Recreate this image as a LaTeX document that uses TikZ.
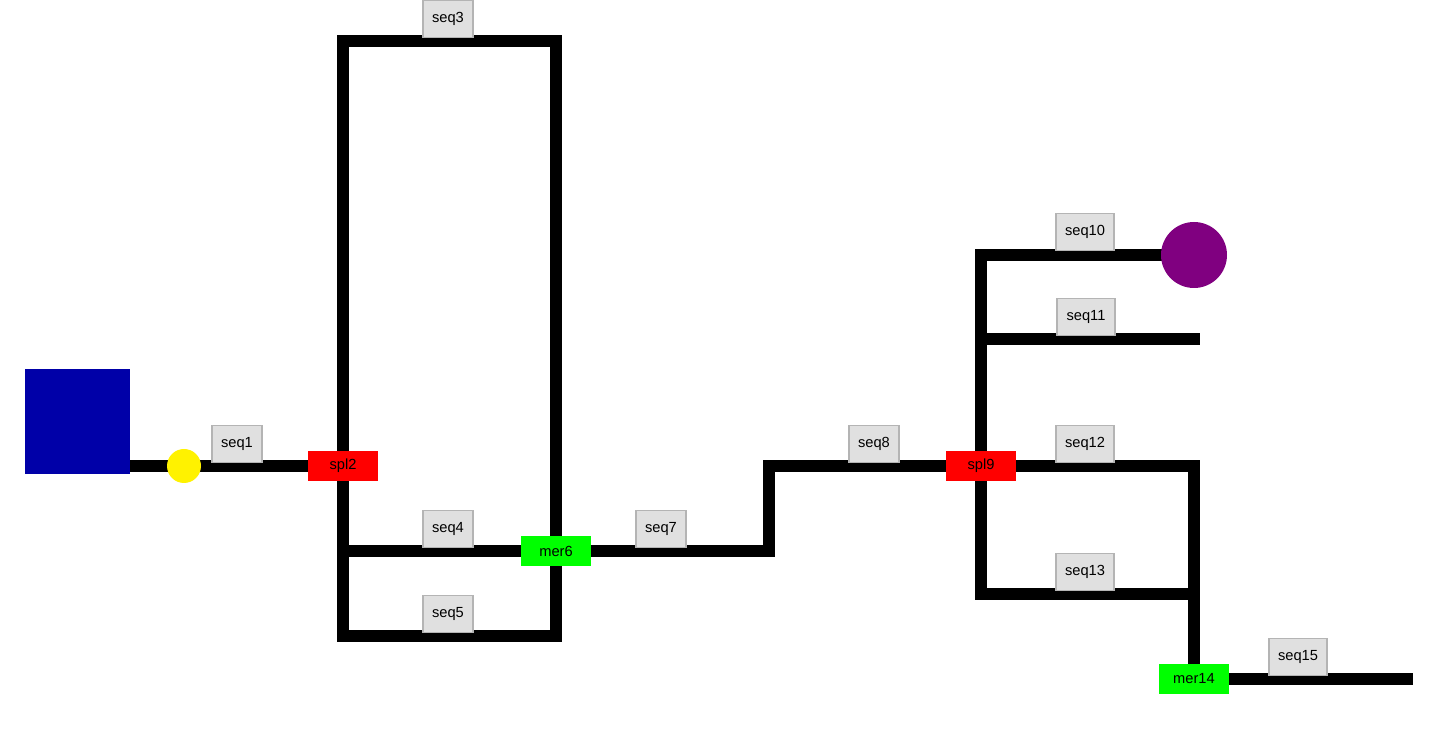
\documentclass[tikz,border=0pt]{standalone}
\usepackage{fontspec}
\setmainfont{Liberation Sans}
\usetikzlibrary{backgrounds}
\definecolor{srcblue}{HTML}{0000A8}
\definecolor{sinkpurple}{HTML}{800080}
\definecolor{tagfill}{HTML}{E0E0E0}
\definecolor{tagline}{HTML}{B4B4B4}

\begin{document}
\begin{tikzpicture}[x=0.75pt,y=-0.75pt,line join=miter,
    every node/.style={font=\fontsize{11}{13}\selectfont},
    pipe/.style={line width=9pt,black},
    seqtag/.style={fill=tagfill,draw=tagline,line width=0.8pt,minimum width=37.5pt,minimum height=28pt,inner sep=1pt},
    widetag/.style={seqtag,minimum width=43.5pt},
    splitbox/.style={fill=red,minimum width=53pt,minimum height=23pt,inner sep=0pt},
    mergebox/.style={fill=green,minimum width=53pt,minimum height=23pt,inner sep=0pt}]
  \useasboundingbox (0,0) rectangle (1447,730);

  % source, pump, sink
  \node[fill=srcblue,minimum size=78.75pt,inner sep=0pt] (src) at (77.5,421.5) {};
  \node[circle,fill=yellow,minimum size=25.5pt,inner sep=0pt] (pump) at (184,466) {};
  \node[circle,fill=sinkpurple,minimum size=49.5pt,inner sep=0pt] (sink) at (1194,255) {};

  % splitters and mergers
  \node[splitbox] (spl2) at (343,466) {spl2};
  \node[mergebox] (mer6) at (556,551) {mer6};
  \node[splitbox] (spl9) at (981,466) {spl9};
  \node[mergebox] (mer14) at (1194,679) {mer14};

  % corners and free ends
  \coordinate (tl3) at (343,41);
  \coordinate (tr3) at (556,41);
  \coordinate (bl5) at (343,636);
  \coordinate (br5) at (556,636);
  \coordinate (k7) at (769,466);
  \coordinate (end11) at (1200,339);
  \coordinate (j13) at (1194,594);
  \coordinate (end15) at (1413,679);

  \begin{scope}[on background layer]
    \draw[pipe] (pump -| src.east) -- (pump.center);
    \draw[pipe] (pump.center) -- (spl2.center);
    \draw[pipe] (spl2.center) -- (tl3) -- (tr3) -- (mer6.center);
    \draw[pipe] (spl2.center) |- (mer6.center);
    \draw[pipe] (spl2.center) -- (bl5) -- (br5) -- (mer6.center);
    \draw[pipe,line cap=rect] (mer6.center) -| (k7);
    \draw[pipe] (k7) -- (spl9.center);
    \draw[pipe] (spl9.center) |- (sink.center);
    \draw[pipe] (spl9.center) |- (end11);
    \draw[pipe] (spl9.center) -| (mer14.center);
    \draw[pipe] (spl9.center) |- (j13);
    \draw[pipe] (mer14.center) -- (end15);
  \end{scope}

  % sequence tags
  \node[seqtag] (seq1) at (237,444) {seq1};
  \node[seqtag] (seq3) at (448,19) {seq3};
  \node[seqtag] (seq4) at (448,529) {seq4};
  \node[seqtag] (seq5) at (448,614) {seq5};
  \node[seqtag] (seq7) at (661,529) {seq7};
  \node[seqtag] (seq8) at (874,444) {seq8};
  \node[widetag] (seq10) at (1085,232) {seq10};
  \node[widetag] (seq11) at (1086,317) {seq11};
  \node[widetag] (seq12) at (1085,444) {seq12};
  \node[widetag] (seq13) at (1085,572) {seq13};
  \node[widetag] (seq15) at (1298,657) {seq15};
\end{tikzpicture}
\end{document}
